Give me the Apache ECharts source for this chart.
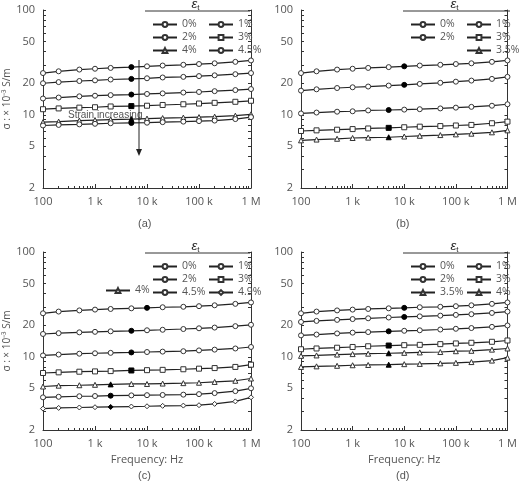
<!DOCTYPE html>
<html><head><meta charset="utf-8">
<script src="https://cdn.jsdelivr.net/npm/echarts@6/dist/echarts.min.js"></script>
<style>html,body{margin:0;background:#fff}#c{width:520px;height:488px}</style>
</head><body><div id="c"></div>
<script>
var freqs = [100,200,500,1e3,2e3,5e3,1e4,2e4,5e4,1e5,2e5,5e5,1e6];

var namesA = ['0%','1%','2%','3%','4%','4.5%'];
var valsA = [
  [25,26,27,27.5,28,28.5,29,29.5,30,30.5,31,32,33],
  [20,20.5,21,21.3,21.7,22,22.3,22.7,23,23.4,23.8,24.4,25],
  [14.3,14.6,15,15.2,15.4,15.6,15.8,16,16.3,16.5,16.8,17.2,17.6],
  [11.3,11.5,11.7,11.8,12,12.1,12.2,12.4,12.6,12.8,13,13.3,13.6],
  [8.5,8.6,8.8,8.9,9,9.1,9.2,9.3,9.4,9.5,9.6,9.8,10.1],
  [7.9,8,8.1,8.2,8.3,8.35,8.4,8.5,8.6,8.7,8.8,9.1,9.5]
];
var blackA = [5,5,5,5,5,5];

var namesB = ['0%','1%','2%','3%','3.5%'];
var valsB = [
  [25,26,27,27.5,28,28.5,29,29.5,30,30.5,31,32,33],
  [17,17.5,18,18.3,18.6,19,19.3,19.7,20.2,20.7,21.2,22,23],
  [10.3,10.5,10.7,10.8,11,11.1,11.2,11.3,11.5,11.7,11.9,12.2,12.6],
  [7,7.1,7.2,7.3,7.4,7.5,7.6,7.7,7.8,7.9,8,8.3,8.6],
  [5.7,5.8,5.9,6,6.05,6.1,6.2,6.3,6.4,6.5,6.6,6.8,7.1]
];
var blackB = [6,6,5,5,5];

var namesC = ['0%','1%','2%','3%','4%','4.5%','4.9%'];
var valsC = [
  [26,27,27.7,28.2,28.6,29,29.3,29.7,30,30.4,31,32,33],
  [16.5,16.8,17.1,17.3,17.5,17.7,17.9,18.1,18.4,18.7,19,19.6,20.2],
  [10.3,10.5,10.7,10.8,10.9,11,11.1,11.2,11.3,11.5,11.7,12,12.4],
  [7,7.1,7.2,7.25,7.3,7.4,7.45,7.5,7.6,7.7,7.8,8,8.4],
  [5.2,5.3,5.35,5.4,5.45,5.5,5.5,5.55,5.6,5.65,5.75,5.9,6.2],
  [4.1,4.15,4.2,4.22,4.25,4.28,4.3,4.32,4.35,4.4,4.5,4.7,5],
  [3.2,3.25,3.28,3.3,3.32,3.35,3.37,3.4,3.42,3.45,3.55,3.75,4.1]
];
var blackC = [6,5,5,5,4,4,4];

var namesD = ['0%','1%','2%','3%','3.5%','4%'];
var valsD = [
  [26,27,27.7,28.2,28.6,29,29.3,29.7,30,30.4,31,32,33],
  [21.5,22,22.5,22.9,23.3,23.7,24,24.3,24.7,25.1,25.5,26.2,27],
  [16,16.3,16.7,17,17.2,17.5,17.7,17.9,18.2,18.5,18.8,19.3,19.9],
  [11.8,12,12.2,12.4,12.6,12.8,12.9,13,13.2,13.4,13.6,13.9,14.3],
  [10.2,10.3,10.5,10.6,10.7,10.8,10.9,11,11.1,11.3,11.4,11.7,12],
  [8,8.1,8.2,8.3,8.35,8.4,8.5,8.55,8.65,8.75,8.9,9.2,9.8]
];
var blackD = [6,6,5,5,5,5];

var yLabels = [2,5,10,20,50,100];
var yTicks = [2,3,4,5,6,7,8,9,10,20,30,40,50,60,70,80,90,100];

var symbolOf = {'0%':'circle','1%':'circle','2%':'circle','3%':'rect','3.5%':'triangle','4%':'triangle','4.5%':'circle','4.9%':'diamond'};
var grey = '#555';
var panels = [
  {names:namesA, vals:valsA, black:blackA, left:43, top:10},
  {names:namesB, vals:valsB, black:blackB, left:301, top:10},
  {names:namesC, vals:valsC, black:blackC, left:43, top:252},
  {names:namesD, vals:valsD, black:blackD, left:301, top:252}
];
var grids = [], xAxes = [], yAxes = [], series = [];
var fmtX = function (v) { return {100:'100',1000:'1 k',10000:'10 k',100000:'100 k',1000000:'1 M'}[v] || ''; };

panels.forEach(function (p, i) {
  grids.push({left:p.left, top:p.top, width:208, height:178});
  xAxes.push({type:'log', gridIndex:i, min:100, max:1e6, logBase:10,
    name: i >= 2 ? 'Frequency: Hz' : '', nameLocation:'middle', nameGap:24,
    nameTextStyle:{color:grey, fontSize:11},
    axisLine:{lineStyle:{color:'#333'}}, splitLine:{show:false},
    axisTick:{inside:true, length:4, lineStyle:{color:'#333'}},
    minorTick:{show:true, splitNumber:9, length:2},
    axisLabel:{formatter:fmtX, color:grey, fontSize:11}});
  yAxes.push({type:'log', gridIndex:i, min:2, max:100, position:'left',
    name: i % 2 === 0 ? 'σ : × 10⁻³ S/m' : '', nameLocation:'middle', nameGap:27,
    nameTextStyle:{color:grey, fontSize:10},
    axisLine:{show:true, lineStyle:{color:'#333'}}, splitLine:{show:false},
    axisTick:{inside:true, length:3, customValues:yTicks, lineStyle:{color:'#333'}},
    axisLabel:{customValues:yLabels, color:grey, fontSize:11}});
  yAxes.push({type:'log', gridIndex:i, min:2, max:100, position:'right',
    axisLine:{show:true, lineStyle:{color:'#333'}}, splitLine:{show:false},
    axisTick:{inside:true, length:3, customValues:yTicks, lineStyle:{color:'#333'}},
    axisLabel:{show:false}});
  p.names.forEach(function (n, k) {
    series.push({type:'line', name:n, xAxisIndex:i, yAxisIndex:i * 2,
      symbol:symbolOf[n], symbolSize:5, lineStyle:{color:'#222', width:1.2},
      itemStyle:{color:'#fff', borderColor:'#333', borderWidth:1},
      data: freqs.map(function (f, j) {
        var d = {value:[f, p.vals[k][j]]};
        if (j === p.black[k]) d.itemStyle = {color:'#000', borderColor:'#000'};
        return d;
      })});
  });
});

function leg(left, top, data) {
  return {left:left, top:top, orient:'vertical', data:data, itemGap:2, itemWidth:24, itemHeight:6,
    textStyle:{color:grey, fontSize:10.5}, selectedMode:false};
}
var legends = [
  leg(147, 14, ['0%','2%','4%']), leg(203, 14, ['1%','3%','4.5%']),
  leg(405, 14, ['0%','2%']), leg(461, 14, ['1%','3%','3.5%']),
  leg(147, 256, ['0%','2%','4.5%']), leg(203, 256, ['1%','3%','4.9%']), leg(100, 280, ['4%']),
  leg(405, 256, ['0%','2%','3.5%']), leg(461, 256, ['1%','3%','4%'])
];

function header(x1, x2, y) {
  return [
    {type:'text', left:(x1 + x2) / 2 - 6, top:y - 12,
      style:{text:'{e|ε}{s|t}', rich:{e:{fontStyle:'italic', fontSize:13, fill:'#222'}, s:{fontSize:8, fill:'#222', padding:[6,0,0,0]}}}},
    {type:'line', shape:{x1:x1, y1:y + 1, x2:x2, y2:y + 1}, style:{stroke:'#333', lineWidth:1}}
  ];
}
var graphics = [].concat(header(145, 250, 10), header(403, 510, 10), header(145, 250, 252), header(403, 510, 252));
[['(a)',146,224],['(b)',404,224],['(c)',146,476],['(d)',404,476]].forEach(function (c) {
  graphics.push({type:'text', left:c[1] - 8, top:c[2] - 6, style:{text:c[0], fontSize:11, fill:grey}});
});
graphics.push({type:'text', left:68, top:110, style:{text:'Strain increasing', fontSize:10, fill:grey}});
graphics.push({type:'line', shape:{x1:139, y1:60, x2:139, y2:153}, style:{stroke:'#222', lineWidth:1}});
graphics.push({type:'polygon', shape:{points:[[136,149],[142,149],[139,156]]}, style:{fill:'#222'}});

var myChart = echarts.init(document.getElementById('c'));
myChart.setOption({
  animation:false,
  textStyle:{fontFamily:'Open Sans'},
  grid:grids, xAxis:xAxes, yAxis:yAxes, legend:legends, series:series, graphic:graphics
});
</script></body></html>
